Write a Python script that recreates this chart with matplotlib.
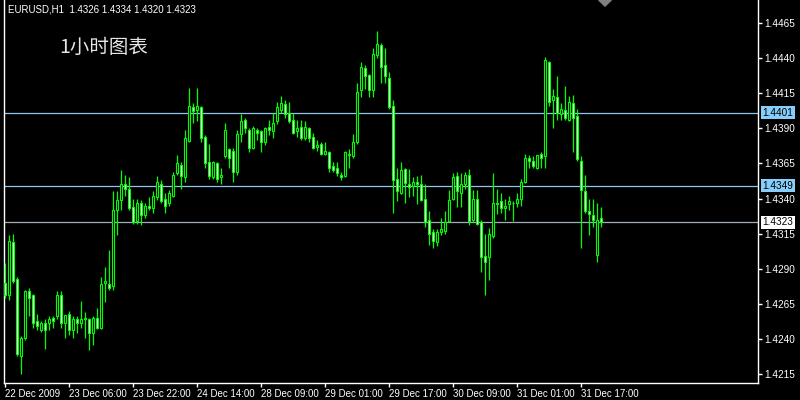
"""
EURUSD H1 candlestick chart, MetaTrader style (green on black).
"""
import matplotlib
matplotlib.use("Agg")
import matplotlib.pyplot as plt
from matplotlib.patches import Polygon
from matplotlib.transforms import blended_transform_factory

title = "EURUSD,H1  1.4326 1.4334 1.4320 1.4323"
caption = "1小时图表"

# hourly bars, 22 Dec 2009 00:00 .. 31 Dec 2009 22:00
opens = [
    1.4280, 1.4271, 1.4309, 1.4283, 1.4228, 1.4241, 1.4274, 1.4271, 1.4253, 1.4246,
    1.4251, 1.4251, 1.4255, 1.4256, 1.4271, 1.4251, 1.4258, 1.4246, 1.4254, 1.4251,
    1.4255, 1.4254, 1.4244, 1.4255, 1.4248, 1.4280, 1.4279, 1.4278, 1.4332, 1.4339,
    1.4350, 1.4347, 1.4334, 1.4324, 1.4337, 1.4328, 1.4335, 1.4333, 1.4341, 1.4350,
    1.4340, 1.4337, 1.4342, 1.4358, 1.4364, 1.4355, 1.4381, 1.4405, 1.4403, 1.4405,
    1.4384, 1.4366, 1.4355, 1.4365, 1.4355, 1.4370, 1.4375, 1.4374, 1.4359, 1.4386,
    1.4396, 1.4389, 1.4376, 1.4389, 1.4388, 1.4380, 1.4391, 1.4388, 1.4395, 1.4403,
    1.4407, 1.4401, 1.4396, 1.4388, 1.4391, 1.4383, 1.4390, 1.4384, 1.4377, 1.4379,
    1.4372, 1.4373, 1.4363, 1.4362, 1.4357, 1.4356, 1.4372, 1.4370, 1.4380, 1.4417,
    1.4433, 1.4428, 1.4417, 1.4442, 1.4449, 1.4435, 1.4426, 1.4406, 1.4354, 1.4344,
    1.4361, 1.4350, 1.4349, 1.4352, 1.4350, 1.4340, 1.4325, 1.4316, 1.4309, 1.4316,
    1.4317, 1.4324, 1.4340, 1.4356, 1.4344, 1.4350, 1.4357, 1.4325, 1.4340, 1.4323,
    1.4299, 1.4298, 1.4313, 1.4337, 1.4338, 1.4333, 1.4336, 1.4337, 1.4337, 1.4340,
    1.4352, 1.4369, 1.4367, 1.4362, 1.4372, 1.4370, 1.4437, 1.4410, 1.4412, 1.4400,
    1.4403, 1.4396, 1.4408, 1.4399, 1.4367, 1.4345, 1.4331, 1.4328, 1.4300, 1.4326,
]
highs = [
    1.4294, 1.4314, 1.4315, 1.4284, 1.4242, 1.4275, 1.4276, 1.4272, 1.4258, 1.4253,
    1.4254, 1.4256, 1.4256, 1.4274, 1.4274, 1.4257, 1.4260, 1.4256, 1.4256, 1.4267,
    1.4259, 1.4255, 1.4256, 1.4262, 1.4284, 1.4291, 1.4303, 1.4345, 1.4345, 1.4360,
    1.4357, 1.4355, 1.4340, 1.4340, 1.4339, 1.4337, 1.4341, 1.4345, 1.4356, 1.4353,
    1.4344, 1.4346, 1.4359, 1.4371, 1.4366, 1.4389, 1.4419, 1.4408, 1.4419, 1.4406,
    1.4385, 1.4379, 1.4367, 1.4366, 1.4362, 1.4394, 1.4376, 1.4376, 1.4389, 1.4400,
    1.4397, 1.4390, 1.4392, 1.4390, 1.4389, 1.4391, 1.4396, 1.4401, 1.4409, 1.4413,
    1.4410, 1.4409, 1.4401, 1.4396, 1.4396, 1.4395, 1.4391, 1.4387, 1.4382, 1.4380,
    1.4380, 1.4374, 1.4366, 1.4366, 1.4359, 1.4374, 1.4375, 1.4386, 1.4422, 1.4437,
    1.4435, 1.4429, 1.4447, 1.4459, 1.4451, 1.4447, 1.4430, 1.4410, 1.4362, 1.4366,
    1.4362, 1.4361, 1.4355, 1.4356, 1.4357, 1.4350, 1.4331, 1.4318, 1.4318, 1.4326,
    1.4331, 1.4346, 1.4358, 1.4359, 1.4358, 1.4359, 1.4361, 1.4346, 1.4346, 1.4325,
    1.4315, 1.4319, 1.4358, 1.4347, 1.4344, 1.4340, 1.4342, 1.4338, 1.4344, 1.4354,
    1.4372, 1.4371, 1.4370, 1.4371, 1.4373, 1.4441, 1.4438, 1.4418, 1.4427, 1.4408,
    1.4420, 1.4413, 1.4414, 1.4404, 1.4370, 1.4357, 1.4340, 1.4340, 1.4337, 1.4334,
]
lows = [
    1.4269, 1.4268, 1.4280, 1.4228, 1.4215, 1.4239, 1.4256, 1.4248, 1.4246, 1.4245,
    1.4233, 1.4246, 1.4248, 1.4254, 1.4248, 1.4241, 1.4243, 1.4241, 1.4244, 1.4248,
    1.4241, 1.4232, 1.4236, 1.4247, 1.4247, 1.4266, 1.4275, 1.4275, 1.4314, 1.4332,
    1.4342, 1.4332, 1.4322, 1.4322, 1.4321, 1.4326, 1.4332, 1.4330, 1.4339, 1.4337,
    1.4330, 1.4335, 1.4341, 1.4357, 1.4347, 1.4352, 1.4380, 1.4394, 1.4395, 1.4380,
    1.4362, 1.4354, 1.4354, 1.4352, 1.4350, 1.4369, 1.4362, 1.4352, 1.4357, 1.4380,
    1.4387, 1.4373, 1.4375, 1.4382, 1.4373, 1.4378, 1.4385, 1.4383, 1.4393, 1.4401,
    1.4397, 1.4394, 1.4386, 1.4384, 1.4382, 1.4382, 1.4380, 1.4375, 1.4374, 1.4371,
    1.4371, 1.4359, 1.4359, 1.4356, 1.4353, 1.4355, 1.4362, 1.4369, 1.4379, 1.4412,
    1.4418, 1.4412, 1.4412, 1.4440, 1.4422, 1.4422, 1.4404, 1.4330, 1.4338, 1.4343,
    1.4337, 1.4341, 1.4342, 1.4336, 1.4338, 1.4320, 1.4307, 1.4305, 1.4306, 1.4314,
    1.4315, 1.4323, 1.4339, 1.4334, 1.4334, 1.4347, 1.4321, 1.4323, 1.4321, 1.4288,
    1.4271, 1.4282, 1.4312, 1.4329, 1.4330, 1.4325, 1.4332, 1.4324, 1.4334, 1.4335,
    1.4351, 1.4362, 1.4362, 1.4361, 1.4362, 1.4362, 1.4406, 1.4390, 1.4396, 1.4396,
    1.4396, 1.4395, 1.4373, 1.4367, 1.4305, 1.4330, 1.4314, 1.4320, 1.4295, 1.4320,
]
closes = [
    1.4271, 1.4310, 1.4281, 1.4229, 1.4241, 1.4274, 1.4269, 1.4251, 1.4249, 1.4251,
    1.4246, 1.4254, 1.4253, 1.4271, 1.4251, 1.4257, 1.4246, 1.4254, 1.4251, 1.4254,
    1.4254, 1.4244, 1.4255, 1.4248, 1.4279, 1.4281, 1.4276, 1.4332, 1.4339, 1.4350,
    1.4347, 1.4333, 1.4323, 1.4337, 1.4328, 1.4335, 1.4333, 1.4342, 1.4352, 1.4338,
    1.4335, 1.4344, 1.4357, 1.4365, 1.4356, 1.4383, 1.4406, 1.4402, 1.4406, 1.4383,
    1.4365, 1.4356, 1.4366, 1.4354, 1.4357, 1.4389, 1.4369, 1.4359, 1.4386, 1.4395,
    1.4390, 1.4376, 1.4390, 1.4387, 1.4380, 1.4390, 1.4389, 1.4394, 1.4405, 1.4408,
    1.4400, 1.4395, 1.4387, 1.4390, 1.4383, 1.4391, 1.4383, 1.4376, 1.4378, 1.4372,
    1.4374, 1.4362, 1.4360, 1.4358, 1.4355, 1.4373, 1.4371, 1.4380, 1.4416, 1.4434,
    1.4427, 1.4417, 1.4443, 1.4450, 1.4434, 1.4427, 1.4405, 1.4353, 1.4345, 1.4360,
    1.4351, 1.4348, 1.4352, 1.4350, 1.4339, 1.4323, 1.4315, 1.4310, 1.4316, 1.4318,
    1.4323, 1.4339, 1.4355, 1.4345, 1.4350, 1.4357, 1.4324, 1.4340, 1.4322, 1.4298,
    1.4295, 1.4315, 1.4337, 1.4336, 1.4333, 1.4335, 1.4338, 1.4337, 1.4340, 1.4352,
    1.4369, 1.4367, 1.4363, 1.4371, 1.4369, 1.4439, 1.4409, 1.4413, 1.4401, 1.4404,
    1.4397, 1.4409, 1.4397, 1.4368, 1.4346, 1.4331, 1.4329, 1.4325, 1.4325, 1.4323,
]

tick_labels = ["22 Dec 2009", "23 Dec 06:00", "23 Dec 22:00", "24 Dec 14:00",
               "28 Dec 09:00", "29 Dec 01:00", "29 Dec 17:00", "30 Dec 09:00",
               "31 Dec 01:00", "31 Dec 17:00"]
price_ticks = [1.4215, 1.4240, 1.4265, 1.4290, 1.4315, 1.4340,
               1.4365, 1.4390, 1.4415, 1.4440, 1.4465]
level_lines = [1.4401, 1.4349]
bid_line = 1.4323

LIME = "#00ff00"
FONT = "Liberation Sans"

fig = plt.figure(figsize=(8, 4), dpi=100, facecolor="black")
ax = fig.add_axes([4 / 800, 17 / 400, 754 / 800, 383 / 400])
ax.set_facecolor("black")

n = len(opens)
xs = list(range(n))
bottoms = [min(o, c) for o, c in zip(opens, closes)]
heights = [abs(c - o) for o, c in zip(opens, closes)]
fills = ["black" if c >= o else "white" for o, c in zip(opens, closes)]

ax.vlines(xs, lows, highs, color=LIME, lw=0.9, zorder=3)
ax.bar(xs, heights, bottom=bottoms, width=0.5, color=fills,
       edgecolor=LIME, linewidth=0.8, zorder=4)

for lvl in level_lines:
    ax.axhline(lvl, color="#8fc4ee", lw=0.9, zorder=2)
ax.axhline(bid_line, color="#a3adb8", lw=0.9, zorder=2)

ax.set_xlim(-0.25, 188.25)
ax.set_ylim(1.42086, 1.44814)

# axes styling
for side in ["left", "bottom", "right"]:
    ax.spines[side].set_color("white")
    ax.spines[side].set_linewidth(1)
ax.spines["top"].set_visible(False)

ax.yaxis.tick_right()
ax.set_yticks(price_ticks)
ax.set_yticklabels([f"{p:.4f}" for p in price_ticks], fontsize=7.2, family=FONT)
ax.set_xticks(range(0, 16 * len(tick_labels), 16))
ax.set_xticklabels(tick_labels, fontsize=7, family=FONT, ha="left")
ax.tick_params(colors="white", length=3, width=1, pad=1.5)

# price tags on the right scale
trans = blended_transform_factory(ax.transAxes, ax.transData)
for lvl in level_lines:
    ax.text(1.0062, lvl, f"{lvl:.4f}", transform=trans, fontsize=7.2, family=FONT,
            color="black", va="center", ha="left", clip_on=False, zorder=10,
            bbox=dict(boxstyle="square,pad=0.15", fc="#87cefa", ec="none"))
ax.text(1.0062, bid_line, f"{bid_line:.4f}", transform=trans, fontsize=7.2, family=FONT,
        color="black", va="center", ha="left", clip_on=False, zorder=10,
        bbox=dict(boxstyle="square,pad=0.15", fc="white", ec="none"))

# chart shift marker
tri = Polygon([(n - 1.6, 1.0), (n + 1.6, 1.0), (n, 0.984)],
              closed=True, transform=blended_transform_factory(ax.transData, ax.transAxes),
              color="#808080", clip_on=False, zorder=5)
ax.add_patch(tri)

fig.text(8 / 800, 1 - 9 / 400, title, color="white", fontsize=7, family=FONT,
         va="center", ha="left")
fig.text(59 / 800, 1 - 47 / 400, caption, color="#e6e6e6", fontsize=14,
         family=["Noto Sans CJK SC", "DejaVu Sans"], va="center", ha="left")

fig.savefig("out.png", dpi=100, facecolor="black")
